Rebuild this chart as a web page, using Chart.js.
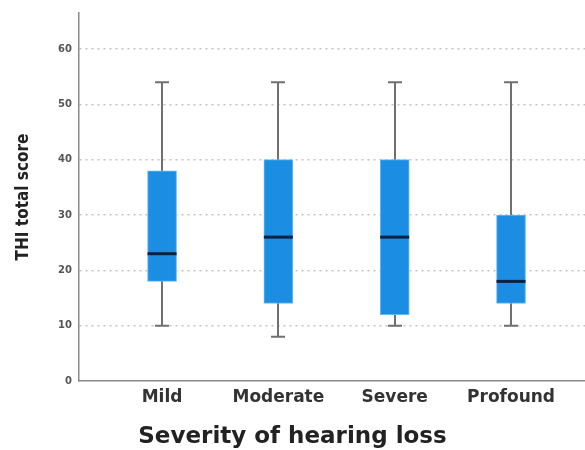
<!DOCTYPE html>
<html>
<head>
<meta charset="utf-8">
<script src="https://cdn.jsdelivr.net/npm/chart.js@4.4.0/dist/chart.umd.min.js"></script>
<style>
  html, body { margin: 0; padding: 0; background: #fff; }
  #wrap { width: 585px; height: 450px; }
</style>
</head>
<body>
<div id="wrap"><canvas id="myChart" width="585" height="450"></canvas></div>
<script>
// box plot values
const categories = ['Mild', 'Moderate', 'Severe', 'Profound'];
const whiskerLow = [10, 8, 10, 10];
const q1 = [18, 14, 12, 14];
const median = [23, 26, 26, 18];
const q3 = [38, 40, 40, 30];
const whiskerHigh = [54, 54, 54, 54];

const positions = categories.map((c, i) => i + 1);

// whiskers go under the boxes, medians on top
const boxPlotPlugin = {
  id: 'boxPlot',
  beforeDatasetsDraw(chart) {
    const { ctx, scales: { x, y } } = chart;
    ctx.save();
    ctx.strokeStyle = '#707070';
    ctx.lineWidth = 2;
    positions.forEach((p, i) => {
      const px = Math.round(x.getPixelForValue(p));
      const yLo = y.getPixelForValue(whiskerLow[i]);
      const yHi = y.getPixelForValue(whiskerHigh[i]);
      ctx.beginPath();
      ctx.moveTo(px, yLo);
      ctx.lineTo(px, yHi);
      ctx.moveTo(px - 7, yLo);
      ctx.lineTo(px + 7, yLo);
      ctx.moveTo(px - 7, yHi);
      ctx.lineTo(px + 7, yHi);
      ctx.stroke();
    });
    ctx.restore();
  },
  afterDatasetsDraw(chart) {
    const { ctx, scales: { x, y } } = chart;
    ctx.save();
    ctx.strokeStyle = '#0a2140';
    ctx.lineWidth = 3;
    positions.forEach((p, i) => {
      const px = x.getPixelForValue(p);
      const py = y.getPixelForValue(median[i]);
      ctx.beginPath();
      ctx.moveTo(px - 14.5, py);
      ctx.lineTo(px + 14.5, py);
      ctx.stroke();
    });
    ctx.restore();
  }
};

const ctx = document.getElementById('myChart').getContext('2d');
new Chart(ctx, {
  type: 'bar',
  data: {
    datasets: [{
      label: 'THI total score',
      data: positions.map((p, i) => ({ x: p, y: [q1[i], q3[i]] })),
      backgroundColor: '#1b8de2',
      borderColor: '#62bcf4',
      borderWidth: 1,
      borderSkipped: false,
      barThickness: 29
    }]
  },
  options: {
    responsive: false,
    animation: false,
    layout: { padding: { top: 10, right: 0, left: 0, bottom: 0 } },
    plugins: {
      legend: { display: false },
      tooltip: { enabled: false },
      title: {
        display: true,
        position: 'bottom',
        text: 'Severity of hearing loss',
        color: '#222',
        font: { family: 'DejaVu Sans', size: 23, weight: 'bold', lineHeight: 1.1 },
        padding: { top: 0, bottom: 0 }
      }
    },
    scales: {
      x: {
        type: 'linear',
        offset: false,
        min: 0.286,
        max: 4.636,
        afterBuildTicks: (scale) => { scale.ticks = positions.map(v => ({ value: v })); },
        afterFit: (scale) => { scale.height = 43.7; },
        grid: { display: false, drawTicks: false },
        border: { color: '#8a8a8a', width: 1.5 },
        ticks: {
          padding: 6,
          color: '#333',
          font: { family: 'DejaVu Sans', size: 17, weight: 'bold' },
          callback: (v) => categories[v - 1]
        }
      },
      y: {
        min: 0,
        max: 66.5,
        afterFit: (scale) => { scale.width = 79; },
        grid: {
          drawTicks: false,
          color: (c) => c.tick && c.tick.value === 0 ? 'rgba(0,0,0,0)' : '#c4c4c4',
          lineWidth: 1.5
        },
        border: { color: '#8a8a8a', width: 1.5, dash: [2, 4] },
        ticks: {
          stepSize: 10,
          includeBounds: false,
          padding: 7,
          color: '#555',
          font: { family: 'DejaVu Sans', size: 10, weight: 'bold' }
        },
        title: {
          display: true,
          text: 'THI total score',
          color: '#222',
          font: { family: "'DejaVu Sans Condensed', 'Liberation Sans Narrow', sans-serif", size: 17, weight: 'bold', lineHeight: 1 },
          padding: { top: 15, bottom: 0 }
        }
      }
    }
  },
  plugins: [boxPlotPlugin]
});
</script>
</body>
</html>
